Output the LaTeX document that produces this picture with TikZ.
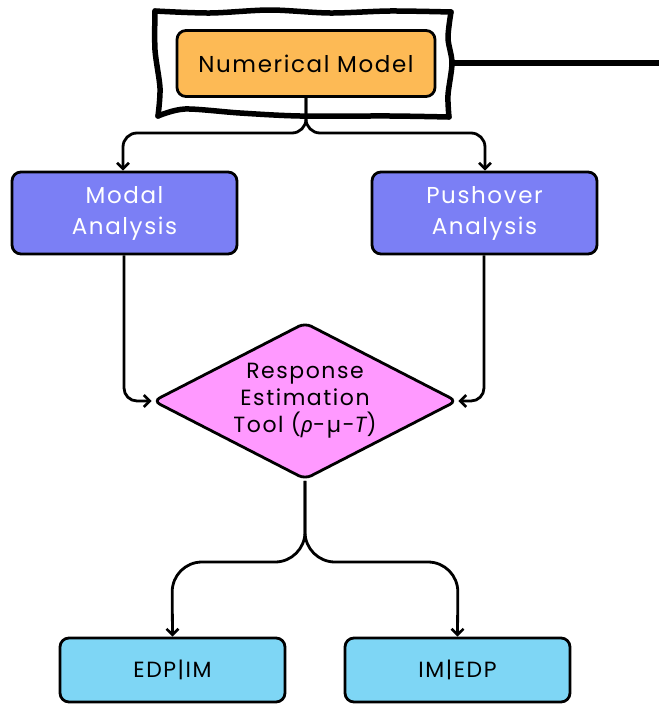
\documentclass[tikz,border=0pt]{standalone}
\usepackage{fontspec}
\setmainfont{Poppins}[LetterSpace=7]
\newfontfamily\grk{Noto Sans}
\usetikzlibrary{shapes.geometric,arrows.meta}
\definecolor{modelfill}{HTML}{FDBA55}
\definecolor{anafill}{HTML}{7B7FF5}
\definecolor{toolfill}{HTML}{FF99FF}
\definecolor{outfill}{HTML}{7ED6F5}
\tikzset{
  box/.style={draw=black, line width=2.8pt, rounded corners=9pt, align=center},
  link/.style={line width=2.8pt, -{Straight Barb[length=6pt,width=12pt,line width=2.6pt]}},
  sketch/.style={line width=5.5pt, line join=round, line cap=round},
}
\begin{document}
\begin{tikzpicture}[x=1pt,y=-1pt]
\useasboundingbox (0,0) rectangle (659,704);

% hand-drawn frame around the model box
\draw[sketch] plot[smooth] coordinates {(155,11) (210,13) (270,10) (330,13) (390,11) (451,12)};
\draw[sketch] plot[smooth] coordinates {(451,12) (448,38) (452,63) (448,95) (449,117)};
\draw[sketch] plot[smooth] coordinates {(449,117) (390,116) (300,116) (240,113) (185,109) (158,116)};
\draw[sketch] plot[smooth] coordinates {(158,116) (160,88) (155,50) (155,11)};
\coordinate (frameR) at (452,63);
\coordinate (rimR) at (659,63);
\draw[line width=5.5pt] (frameR) -- (rimR);

% nodes
\node[box, fill=modelfill, minimum width=258pt, minimum height=66pt,
      font=\fontsize{23}{26}\selectfont] (model) at (306,63.5) {Numerical Model};
\node[box, fill=anafill, text=white, minimum width=225pt, minimum height=82pt,
      font=\fontsize{23}{31}\selectfont] (modal) at (124.5,213) {Modal\\Analysis};
\node[box, fill=anafill, text=white, minimum width=225pt, minimum height=82pt,
      font=\fontsize{23}{31}\selectfont] (push) at (484.5,213) {Pushover\\Analysis};
\node[draw=black, line width=2.8pt, fill=toolfill, diamond, shape aspect=1.94,
      rounded corners=7pt, minimum width=304pt, minimum height=157pt,
      inner sep=0pt, align=center,
      font=\fontsize{22}{27}\selectfont] (tool) at (305,401)
      {Response\\Estimation\\Tool ({\grk\itshape ρ}-µ-{\itshape T})};
\node[box, fill=outfill, minimum width=225pt, minimum height=64pt,
      font=\fontsize{22}{26}\selectfont] (edp) at (172.5,670) {EDP|IM};
\node[box, fill=outfill, minimum width=225pt, minimum height=64pt,
      font=\fontsize{22}{26}\selectfont] (im) at (457.5,670) {IM|EDP};

% connectors
\draw[link, rounded corners=14pt] (model.south) -- (306,133) -- (123,133) -- (modal.north -| 123,0);
\draw[link, rounded corners=14pt] (model.south) -- (306,133) -- (485,133) -- (push.north -| 485,0);

\draw[link, rounded corners=13pt] (modal.south -| 124,0) |- (tool.west);
\draw[link, rounded corners=13pt] (push.south -| 484,0) |- (tool.east);

\draw[link, rounded corners=30pt] (tool.south) -- (305,562) -- (172,562) -- (edp.north);
\draw[link, rounded corners=30pt] (tool.south) -- (305,562) -- (458,562) -- (im.north);
\end{tikzpicture}
\end{document}
